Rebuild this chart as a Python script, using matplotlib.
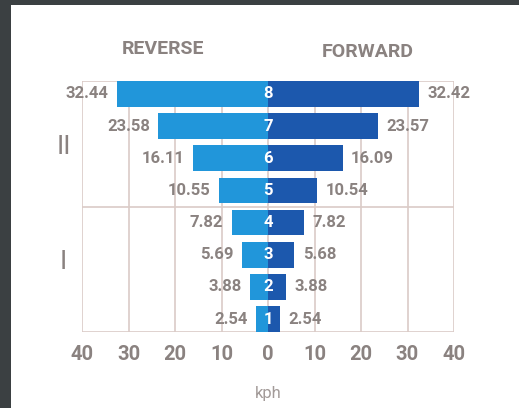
import matplotlib
matplotlib.use("Agg")
import matplotlib.pyplot as plt
from matplotlib.patches import Rectangle

gears = [1, 2, 3, 4, 5, 6, 7, 8]
reverse = [2.54, 3.88, 5.69, 7.82, 10.55, 16.11, 23.58, 32.44]
forward = [2.54, 3.88, 5.68, 7.82, 10.54, 16.09, 23.57, 32.42]
xticks = [-40, -30, -20, -10, 0, 10, 20, 30, 40]
xticklabels = ["40", "30", "20", "10", "0", "10", "20", "30", "40"]
range_labels = ["II", "I"]

plt.rcParams['font.family'] = ['Roboto', 'DejaVu Sans']

BG = "#3b4042"
LIGHT = "#2196da"
DARK = "#1c58ad"
TXT = "#8a8280"
GRID = "#dacbc7"

fig = plt.figure(figsize=(5.19, 4.08), dpi=100, facecolor=BG)
fig.patches.append(Rectangle((11/519, 0), 1, 1 - 5/408, transform=fig.transFigure,
                             facecolor="white", edgecolor="none", zorder=-10))

ax = fig.add_axes([82/519, 1 - 332/408, 372/519, 251/408])
ax.set_zorder(1)
ax.set_facecolor("white")
ax.set_xlim(-40, 40)
ax.set_ylim(0.6, 8.4)

for x in xticks:
    ax.axvline(x, color=GRID, lw=1.2, zorder=1)
for y in [0.6, 4.5, 8.4]:
    ax.axhline(y, color=GRID, lw=1.2, zorder=1)

ax.barh(gears, [-v for v in reverse], height=0.8, color=LIGHT, zorder=2)
ax.barh(gears, forward, height=0.8, color=DARK, zorder=2)

for g, r, f in zip(gears, reverse, forward):
    ax.text(0, g, str(g), ha="center", va="center", color="white",
            fontsize=12, fontweight="bold", zorder=3)
    ax.annotate(f"{r:.2f}", (-r, g), xytext=(-6, 0), textcoords="offset points",
                ha="right", va="center", color=TXT, fontsize=12, fontweight="bold")
    ax.annotate(f"{f:.2f}", (f, g), xytext=(6, 0), textcoords="offset points",
                ha="left", va="center", color=TXT, fontsize=12, fontweight="bold")

ax.text(-44, 6.36, range_labels[0], ha="center", va="center", color=TXT,
        fontsize=19, fontweight="normal", clip_on=False)
ax.text(-44, 2.76, range_labels[1], ha="center", va="center", color=TXT,
        fontsize=19, fontweight="normal", clip_on=False)

ax.text(-22.5, 9.4, "REVERSE", ha="center", va="center", color=TXT,
        fontsize=14, fontweight="bold", clip_on=False)
ax.text(21.5, 9.3, "FORWARD", ha="center", va="center", color=TXT,
        fontsize=14, fontweight="bold", clip_on=False)

ax.set_xticks(xticks)
ax.set_xticklabels(xticklabels, fontsize=14.5, color=TXT, fontweight="bold")
ax.tick_params(axis="x", length=0, pad=9)
ax.set_yticks([])
ax.set_xlabel("kph", fontsize=12, color="#a39b99", labelpad=16)
for s in ax.spines.values():
    s.set_visible(False)

fig.savefig("out.png", dpi=100, facecolor=BG)
